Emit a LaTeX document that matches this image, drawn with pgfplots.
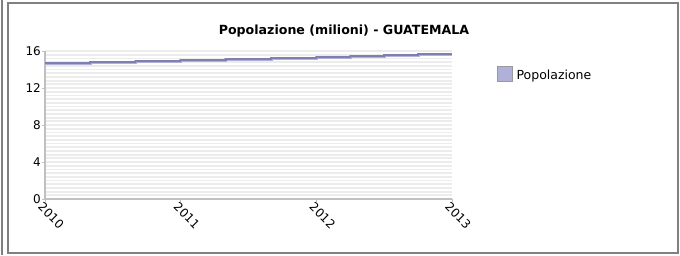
\documentclass[border=0pt]{standalone}
\usepackage{pgfplots}
\pgfplotsset{compat=1.18}
\usepackage{fontspec}
\setmainfont{DejaVu Sans}
\definecolor{bandlight}{RGB}{176,176,216}
\definecolor{banddark}{RGB}{128,128,176}
\definecolor{stripe}{RGB}{236,236,236}
\definecolor{frame}{RGB}{128,128,128}
\definecolor{axisgray}{RGB}{192,192,192}
\begin{document}
\begin{tikzpicture}[x=1pt,y=1pt]
\path[use as bounding box] (0,0) rectangle (680,255);
\draw[frame, line width=1.5pt] (8,2) rectangle (678,252);
\draw[frame, line width=1.2pt] (2,0) -- (2,255);
\node[font=\bfseries\fontsize{12.6}{15}\selectfont, anchor=base] at (344,220) {Popolazione (milioni) - GUATEMALA};
\begin{axis}[
  at={(45pt,56pt)}, anchor=south west,
  scale only axis, width=407pt, height=148pt,
  xmin=2010, xmax=2013, ymin=0, ymax=16,
  xtick={2010,2011,2012,2013},
  ytick={0,4,8,12,16},
  minor y tick num=9,
  ymajorgrids, yminorgrids,
  major grid style={stripe, line width=1.8pt},
  minor grid style={stripe, line width=1.8pt},
  axis x line*=bottom, axis y line*=left,
  axis line style={axisgray, line width=1.2pt, -},
  tick style={axisgray, line width=0.8pt},
  tick align=outside, major tick length=3pt,
  minor tick length=0pt,
  /pgf/number format/assume math mode=true,
  /pgf/number format/1000 sep={},
  tick label style={font=\fontsize{12}{14}\selectfont, text=black},
  yticklabel style={inner sep=1pt},
  xticklabel style={rotate=-45, anchor=north west, inner sep=0.5pt, xshift=-2pt},
  legend style={at={(rel axis cs:1.11,0.84)}, anchor=west, draw=none, fill=none, font=\fontsize{12.5}{15}\selectfont, inner sep=0pt},
  legend cell align=left,
  clip=false,
]
\addplot[const plot, bandlight, line width=3pt, forget plot] coordinates {
(2010,14.62) (2010.333,14.73) (2010.667,14.83) (2011,14.94) (2011.333,15.05)
(2011.667,15.16) (2012,15.27) (2012.25,15.37) (2012.5,15.48) (2012.75,15.59) (2013,15.59)};
\addplot[const plot, banddark, line width=1.4pt, yshift=0.8pt,
  legend image code/.code={\draw[fill=bandlight, draw=frame!80, line width=0.6pt] (0pt,-7pt) rectangle (15pt,8pt);}] coordinates {
(2010,14.62) (2010.333,14.73) (2010.667,14.83) (2011,14.94) (2011.333,15.05)
(2011.667,15.16) (2012,15.27) (2012.25,15.37) (2012.5,15.48) (2012.75,15.59) (2013,15.59)};
\addlegendentry{\hspace{2pt}Popolazione}
\end{axis}
\end{tikzpicture}
\end{document}
